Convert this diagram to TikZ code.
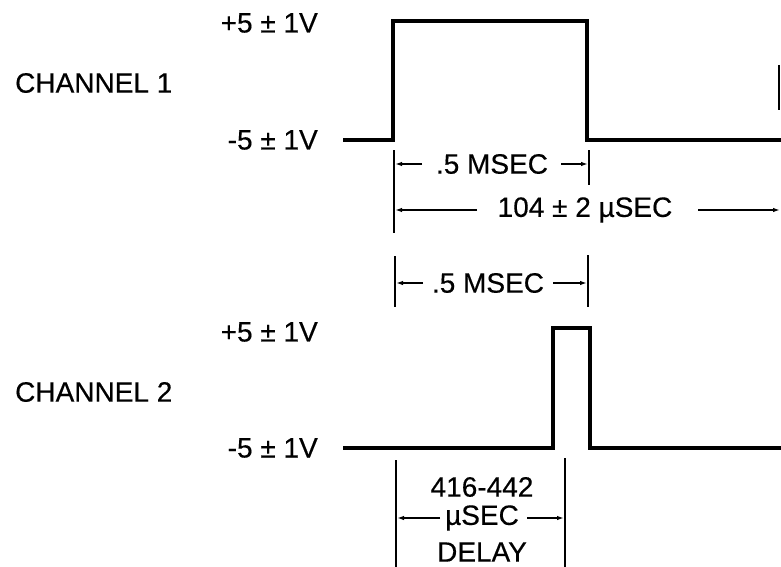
\documentclass[tikz,border=0pt]{standalone}
\usepackage{fontspec}
\setmainfont{Liberation Sans}
\newfontfamily\lblfont{Liberation Sans}[FakeBold=0.4]
\usetikzlibrary{arrows.meta}
\begin{document}
\begin{tikzpicture}[x=1pt,y=-1pt,
  wave/.style={line width=3.2pt, line join=miter},
  tickline/.style={line width=2pt},
  dimarrow/.style={line width=1.4pt,-{Latex[length=7pt,width=4.5pt]}},
  lbl/.style={font=\fontsize{28}{30}\lblfont, inner sep=0pt},
]
\useasboundingbox (0,0) rectangle (781,567);

% ---- Channel 1 labels
\node[lbl,anchor=west] (ch1) at (15,83) {CHANNEL 1};
\node[lbl,anchor=east] (p1) at (318,23) {+5 ± 1V};
\node[lbl,anchor=east] (m1) at (318,140) {-5 ± 1V};

% ---- Channel 1 waveform
\coordinate (w1a) at (343,140);
\coordinate (w1b) at (393,140);
\coordinate (w1c) at (393,21);
\coordinate (w1d) at (587,21);
\coordinate (w1e) at (587,140);
\coordinate (w1f) at (781,140);
\draw[wave] (w1a) -- (w1b) -- (w1c) -- (w1d) -- (w1e) -- (w1f);

% fragment at right edge
\coordinate (fr1) at (779,65);
\coordinate (fr2) at (779,110);
\draw[line width=1.5pt] (fr1) -- (fr2);

% ---- dimension ticks (channel 1)
\coordinate (k1t) at (394,150); \coordinate (k1b) at (394,233);
\coordinate (k2t) at (589,150); \coordinate (k2b) at (589,185);
\draw[tickline] (k1t) -- (k1b);
\draw[tickline] (k2t) -- (k2b);

% .5 MSEC (row 1)
\node[lbl] (r1) at (492,164) {.5 MSEC};
\coordinate (r1l) at (395,164); \coordinate (r1r) at (588,164);
\coordinate (r1ls) at (422,164); \coordinate (r1rs) at (561,164);
\draw[dimarrow] (r1ls) -- (r1l);
\draw[dimarrow] (r1rs) -- (r1r);

% 104 +- 2 usec (row 2)
\node[lbl] (r2) at (585,210) {104 ± 2 µSEC};
\coordinate (r2l) at (395,210); \coordinate (r2r) at (780,210);
\coordinate (r2ls) at (477,210); \coordinate (r2rs) at (698,210);
\draw[dimarrow] (r2ls) -- (r2l);
\draw[dimarrow] (r2rs) -- (r2r);

% .5 MSEC (row 3)
\coordinate (k3t) at (395,256); \coordinate (k3b) at (395,307);
\coordinate (k4t) at (588,255); \coordinate (k4b) at (588,307);
\draw[tickline] (k3t) -- (k3b);
\draw[tickline] (k4t) -- (k4b);
\node[lbl] (r3) at (488,283) {.5 MSEC};
\coordinate (r3l) at (396,283); \coordinate (r3r) at (587,283);
\coordinate (r3ls) at (423,283); \coordinate (r3rs) at (553,283);
\draw[dimarrow] (r3ls) -- (r3l);
\draw[dimarrow] (r3rs) -- (r3r);

% ---- Channel 2 labels
\node[lbl,anchor=west] (ch2) at (15,392) {CHANNEL 2};
\node[lbl,anchor=east] (p2) at (318,332) {+5 ± 1V};
\node[lbl,anchor=east] (m2) at (318,448) {-5 ± 1V};

% ---- Channel 2 waveform
\coordinate (w2a) at (343,448);
\coordinate (w2b) at (553,448);
\coordinate (w2c) at (553,328);
\coordinate (w2d) at (590,328);
\coordinate (w2e) at (590,448);
\coordinate (w2f) at (781,448);
\draw[wave] (w2a) -- (w2b) -- (w2c) -- (w2d) -- (w2e) -- (w2f);

% ---- delay dimension
\coordinate (k5t) at (396,460); \coordinate (k5b) at (396,567);
\coordinate (k6t) at (565,458); \coordinate (k6b) at (565,567);
\draw[tickline] (k5t) -- (k5b);
\draw[tickline] (k6t) -- (k6b);
\node[lbl] (d1) at (482,487) {416-442};
\node[lbl] (d2) at (482,518) {µSEC};
\node[lbl] (d3) at (482,552) {DELAY};
\coordinate (d2l) at (397,518); \coordinate (d2r) at (564,518);
\coordinate (d2ls) at (440,518); \coordinate (d2rs) at (527,518);
\draw[dimarrow] (d2ls) -- (d2l);
\draw[dimarrow] (d2rs) -- (d2r);
\end{tikzpicture}
\end{document}
